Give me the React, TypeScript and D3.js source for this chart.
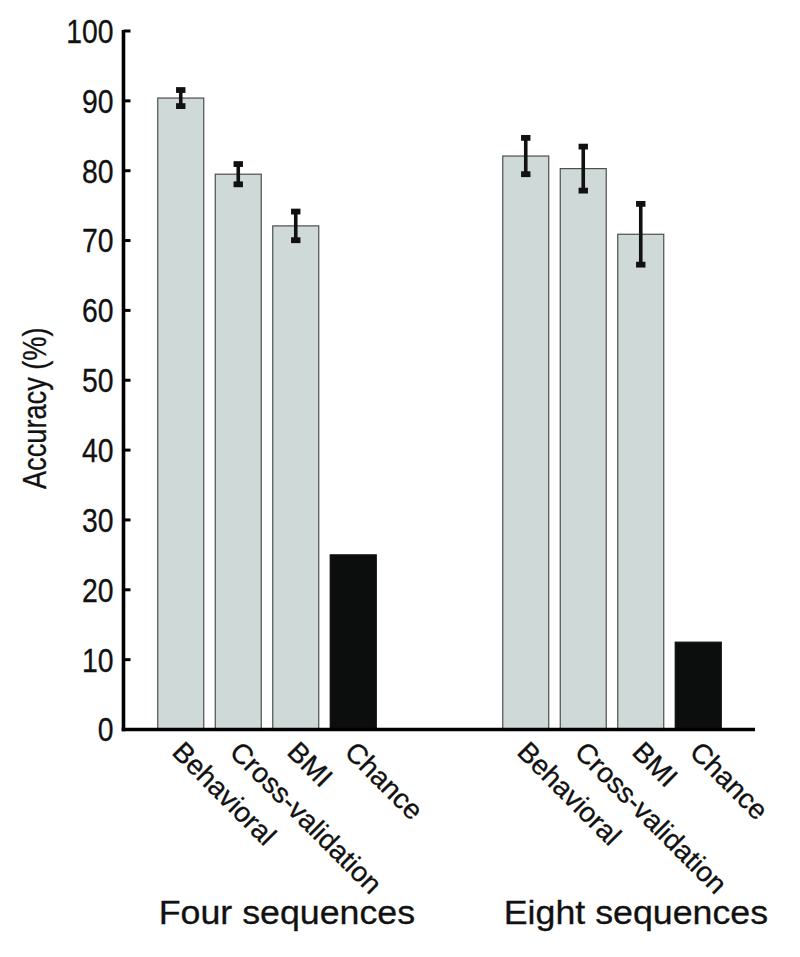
import React from "react";
import * as d3 from "d3";

const groups = ["Four sequences", "Eight sequences"];
const methods = ["Behavioral", "Cross-validation", "BMI", "Chance"];
const fourValues = [90.4, 79.5, 72.1, 25];
const fourErrors = [1.15, 1.45, 2.05, 0];
const eightValues = [82.1, 80.3, 70.9, 12.5];
const eightErrors = [2.6, 3.15, 4.35, 0];
const yTicks = [0, 10, 20, 30, 40, 50, 60, 70, 80, 90, 100];

const groupValues = [fourValues, eightValues];
const groupErrors = [fourErrors, eightErrors];

const W = 800;
const H = 957;
const axisX = 123.5;
const axisRight = 755;

export default function App() {
  const slots: string[] = [];
  groups.forEach((g, gi) => {
    methods.forEach((m) => slots.push(`${gi}-${m}`));
    if (gi === 0) {
      slots.push("gap-a");
      slots.push("gap-b");
    }
  });
  const x = d3.scaleBand<string>().domain(slots).range([152, 727]).paddingInner(0.2).paddingOuter(0.1);
  const y = d3.scaleLinear().domain([0, 100]).range([729.5, 31]);
  const bw = x.bandwidth();

  const bars = groups.flatMap((g, gi) =>
    methods.map((m, mi) => ({
      key: `${gi}-${m}`,
      group: gi,
      method: m,
      value: groupValues[gi][mi],
      err: groupErrors[gi][mi],
      chance: m === "Chance",
    }))
  );

  const font = "'Liberation Sans', Arial, Helvetica, sans-serif";
  const ink = "#111";

  return (
    <svg width={W} height={H} style={{ position: "absolute", left: 0, top: 0, background: "#fff" }}>
      {/* bars */}
      {bars.map((b) => (
        <rect
          key={b.key}
          x={x(b.key)!}
          y={y(b.value)}
          width={bw}
          height={y(0) - y(b.value)}
          fill={b.chance ? "#0c0e0d" : "#cfd9d8"}
          stroke={b.chance ? "#0c0e0d" : "#4d4f4f"}
          strokeWidth={1.2}
        />
      ))}
      {/* error bars */}
      {bars
        .filter((b) => b.err > 0)
        .map((b) => {
          const cx = x(b.key)! + bw / 2;
          const yt = y(b.value + b.err);
          const yb = y(b.value - b.err);
          return (
            <g key={`e-${b.key}`} fill={ink}>
              <line x1={cx} x2={cx} y1={yt} y2={yb} stroke={ink} strokeWidth={3.6} />
              <rect x={cx - 4.7} y={yt - 2.9} width={9.4} height={5.8} />
              <rect x={cx - 4.7} y={yb - 2.9} width={9.4} height={5.8} />
            </g>
          );
        })}
      {/* axes */}
      <line x1={axisX} x2={axisX} y1={y(100) - 1} y2={y(0) + 1.7} stroke="#000" strokeWidth={3.6} />
      <line x1={axisX - 1.8} x2={axisRight} y1={y(0)} y2={y(0)} stroke="#000" strokeWidth={3.6} />
      {yTicks.map((t) => (
        <g key={`t-${t}`}>
          <line x1={axisX} x2={axisX + 7} y1={y(t)} y2={y(t)} stroke="#000" strokeWidth={3} />
          <text
            transform={`translate(${axisX - 10}, ${y(t)}) scale(0.86, 1)`}
            dy="0.36em"
            textAnchor="end"
            fontFamily={font}
            fontSize={33}
            fill={ink}
            stroke={ink}
            strokeWidth={0.3}
          >
            {t}
          </text>
        </g>
      ))}
      {/* y label */}
      <text
        transform={`translate(46, ${(y(0) + y(100)) / 2 + 28}) rotate(-90) scale(0.8, 1)`}
        textAnchor="middle"
        fontFamily={font}
        fontSize={34}
        fill={ink}
        stroke={ink}
        strokeWidth={0.3}
      >
        Accuracy (%)
      </text>
      {/* category labels */}
      {bars.map((b) => {
        const px = x(b.key)! + bw / 2 - 10;
        const py = y(0) + 24;
        return (
          <text
            key={`l-${b.key}`}
            transform={`translate(${px}, ${py}) rotate(45)`}
            fontFamily={font}
            fontSize={28}
            fill={ink}
            stroke={ink}
            strokeWidth={0.3}
          >
            {b.method}
          </text>
        );
      })}
      {/* group labels */}
      {groups.map((g, gi) => (
        <text
          key={`g-${g}`}
          transform={`translate(${x(`${gi}-${methods[0]}`)! + 1}, 924) scale(1.1, 1)`}
          fontFamily={font}
          fontSize={32.5}
          fill={ink}
          stroke={ink}
          strokeWidth={0.3}
        >
          {g}
        </text>
      ))}
    </svg>
  );
}
